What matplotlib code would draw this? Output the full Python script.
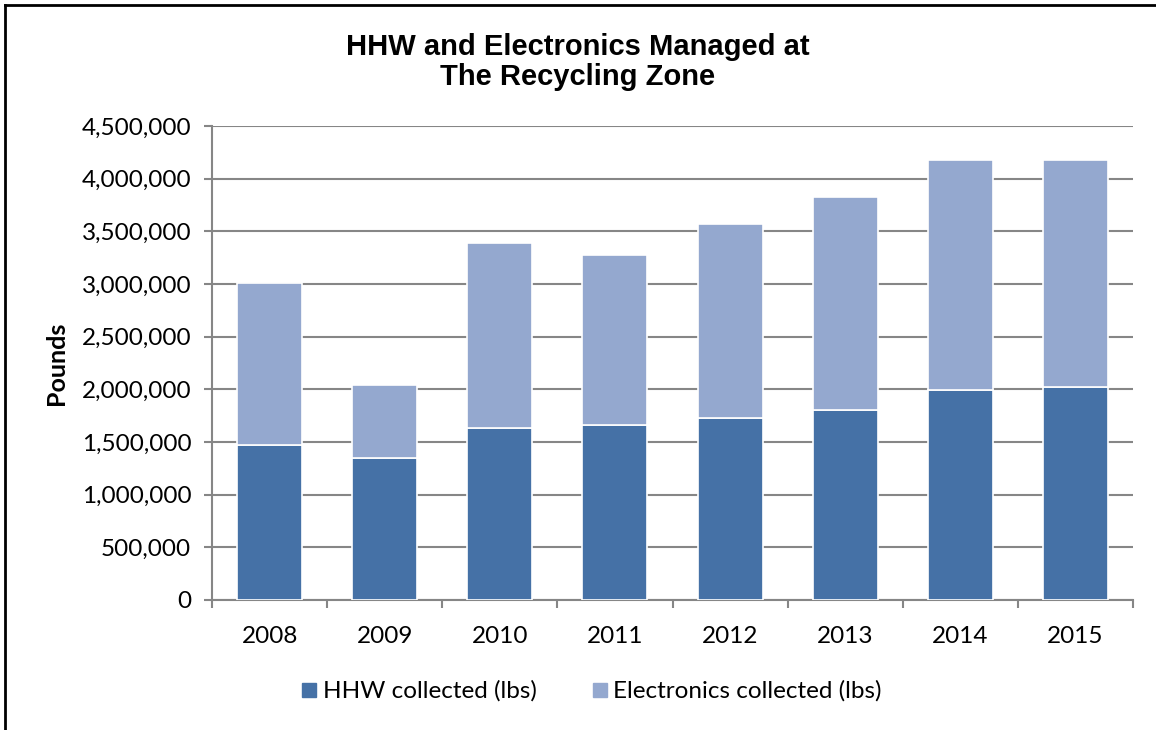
import matplotlib
matplotlib.use("Agg")
import matplotlib.pyplot as plt
import numpy as np
from matplotlib.lines import Line2D
from matplotlib.ticker import FuncFormatter, MultipleLocator

years = ["2008", "2009", "2010", "2011", "2012", "2013", "2014", "2015"]
hhw = [1467000, 1347000, 1632000, 1663000, 1727000, 1803000, 1993000, 2018000]
electronics = [1540000, 690000, 1755000, 1617000, 1838000, 2021000, 2180000, 2162000]

dark = "#4571a6"
light = "#94a8cf"
grey = "#868686"

fig = plt.figure(figsize=(11.56, 7.30), dpi=100)
ax = fig.add_axes([0.1834, 0.1781, 0.7967, 0.6493])

x = np.arange(len(years))
ax.bar(x, hhw, width=0.565, color=dark, edgecolor="white", linewidth=1.2, zorder=3)
ax.bar(x, electronics, width=0.565, bottom=hhw, color=light, edgecolor="white",
       linewidth=1.2, zorder=3)

ax.set_xlim(-0.5, len(years) - 0.5)
ax.set_ylim(0, 4500000)
ax.yaxis.set_major_locator(MultipleLocator(500000))
ax.yaxis.set_major_formatter(FuncFormatter(lambda v, p: f"{int(v):,}"))
ax.grid(axis="y", color=grey, linewidth=1.5, zorder=0)

ax.set_xticks(x)
ax.set_xticklabels(years)
ax.set_xticks(np.arange(-0.5, len(years), 1), minor=True)
ax.tick_params(axis="x", which="major", length=0, pad=19, labelsize=17.5)
ax.tick_params(axis="x", which="minor", length=6, width=1.5, color=grey, direction="out")
ax.tick_params(axis="y", length=6, width=1.5, color=grey, pad=9, labelsize=17.5)
for lab in ax.get_xticklabels() + ax.get_yticklabels():
    lab.set_family("Lato")

for s in ["top", "right"]:
    ax.spines[s].set_visible(False)
for s in ["left", "bottom"]:
    ax.spines[s].set_color(grey)
    ax.spines[s].set_linewidth(1.5)

ax.set_ylabel("Pounds", fontsize=18, fontweight="bold", family="Lato", labelpad=10)

fig.text(0.50, 0.915, "HHW and Electronics Managed at\nThe Recycling Zone", ha="center",
         va="center", fontsize=21, fontweight="bold", family="Liberation Sans",
         linespacing=1.12)

handles = [Line2D([], [], marker="s", linestyle="none", markersize=10, color=dark),
           Line2D([], [], marker="s", linestyle="none", markersize=10, color=light)]
fig.legend(handles, ["HHW collected (lbs)", "Electronics collected (lbs)"],
           loc="center", bbox_to_anchor=(0.511, 0.053), ncol=2, frameon=False,
           prop={"family": "Lato", "size": 17.5}, handlelength=0.8, handletextpad=0.15,
           columnspacing=2.2)

# border of the chart area (left and top edges visible in the reference)
fig.add_artist(Line2D([0.0043, 1.0], [0.993, 0.993], color="black", linewidth=2,
                      transform=fig.transFigure))
fig.add_artist(Line2D([0.0043, 0.0043], [0.0, 0.993], color="black", linewidth=2,
                      transform=fig.transFigure))

fig.savefig("out.png", dpi=100)
